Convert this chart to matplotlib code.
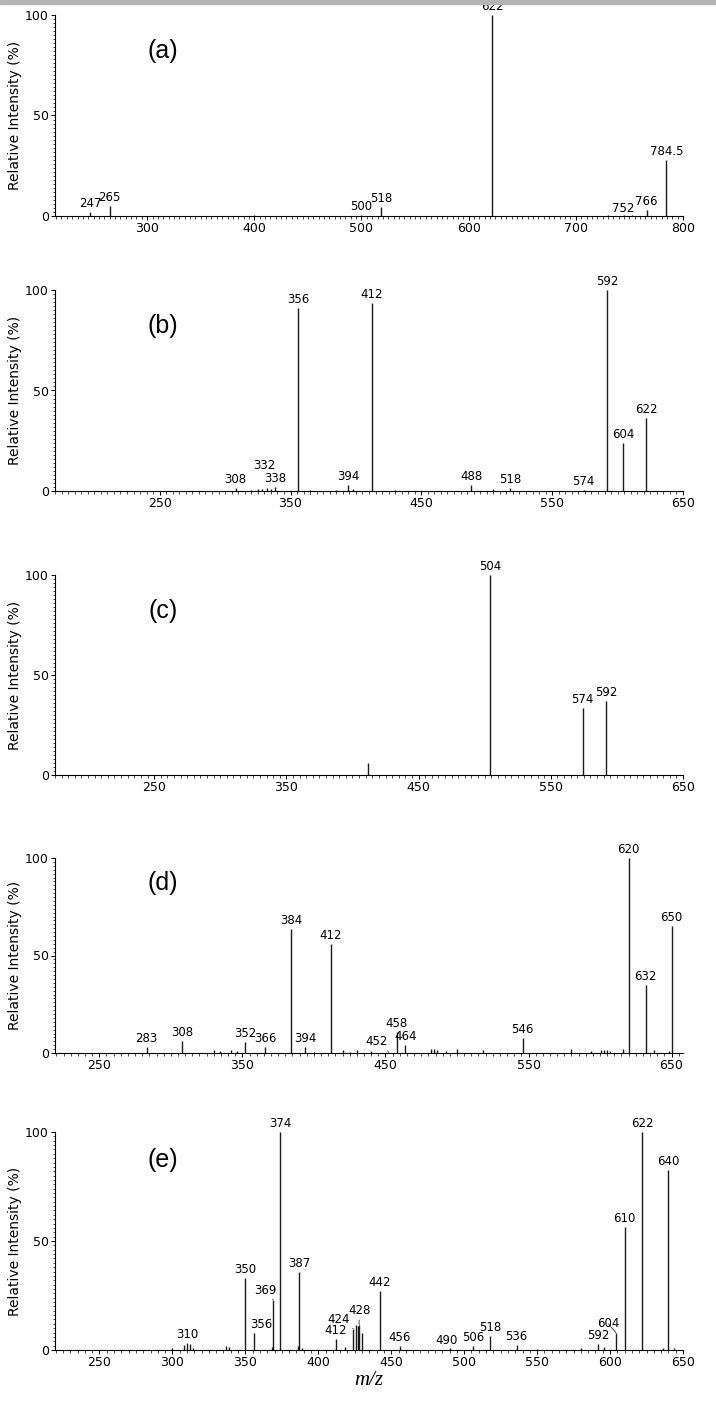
import matplotlib.pyplot as plt
from matplotlib.ticker import MultipleLocator
from matplotlib.patches import Rectangle

# peaks: m/z and relative intensity (%)
a_mz  = [247, 265, 400, 500, 518, 622, 700, 730, 745, 752, 766, 784.5]
a_int = [2.0, 4.8, 0.3, 0.5, 4.3, 100, 0.2, 0.3, 0.3, 0.5, 3.0, 27.8]
a_lab = ['247', '265', '500', '518', '622', '752', '766', '784.5']

b_mz  = [308, 320, 325, 328, 332, 335, 338, 356, 365, 385, 394, 398, 412, 430, 488, 505, 518, 574, 592, 604, 622]
b_int = [1.7, 0.5, 0.8, 0.8, 1.5, 1.0, 2.0, 91.2, 0.4, 0.5, 2.9, 0.8, 93.4, 0.4, 3.2, 0.8, 1.7, 0.7, 100, 23.7, 36.5]
b_lab = ['308', '332', '338', '356', '394', '412', '488', '518', '574', '592', '604', '622']

c_mz  = [412, 504, 574, 592]
c_int = [6.0, 100, 33.6, 37.2]
c_lab = ['504', '574', '592']

d_mz  = [283, 308, 330, 334, 342, 346, 352, 366, 384, 394, 400, 412, 420, 425, 430, 440, 452, 458, 464,
         482, 484, 486, 492, 500, 518, 546, 580, 594, 601, 603, 605, 607, 616, 620, 632, 638, 648, 650]
d_int = [2.9, 6.0, 1.7, 1.0, 1.3, 1.0, 5.8, 3.2, 63.4, 2.9, 0.6, 56.0, 1.5, 0.7, 1.5, 0.8, 0.7, 11.0, 3.9,
         2.2, 2.0, 1.4, 1.0, 2.0, 1.4, 7.8, 2.3, 0.8, 1.5, 1.5, 1.4, 1.2, 2.0, 100, 34.7, 1.3, 1.0, 64.9]
d_lab = ['283', '308', '352', '366', '384', '394', '412', '452', '458', '464', '546', '620', '632', '650']

e_mz  = [300, 308, 310, 312, 314, 337, 339, 350, 356, 368, 369, 374, 386, 387, 389, 412, 418, 424, 426,
         427, 428, 430, 442, 456, 490, 506, 518, 536, 550, 580, 592, 596, 604, 610, 622, 636, 640, 644]
e_int = [0.8, 2.2, 3.0, 2.8, 1.0, 1.8, 1.6, 32.8, 7.6, 1.5, 23.0, 100, 1.8, 35.7, 1.0, 5.0, 1.5, 9.8, 11.5,
         11.0, 11.5, 8.0, 27.0, 1.9, 0.9, 1.9, 6.2, 2.2, 0.5, 1.0, 2.6, 1.2, 7.9, 56.5, 100, 1.0, 82.4, 1.0]
e_lab = ['310', '350', '356', '369', '374', '387', '412', '424', '428', '442', '456', '490', '506', '518',
         '536', '592', '604', '610', '622', '640']

panels = [
    ('(a)', a_mz, a_int, a_lab, (214, 800), [300, 400, 500, 600, 700, 800]),
    ('(b)', b_mz, b_int, b_lab, (170, 650), [250, 350, 450, 550, 650]),
    ('(c)', c_mz, c_int, c_lab, (175, 650), [250, 350, 450, 550, 650]),
    ('(d)', d_mz, d_int, d_lab, (219, 658), [250, 350, 450, 550, 650]),
    ('(e)', e_mz, e_int, e_lab, (219.5, 650), [250, 300, 350, 400, 450, 500, 550, 600, 650]),
]

# labels that are moved off their peak (x, y of label bottom, draw leader line)
moved = {
    ('(a)', '752'): (744, 0.3, False),
    ('(b)', '332'): (330, 9.5, False),
    ('(d)', '452'): (444, 2.5, True),
    ('(e)', '369'): (364, 24.5, True),
    ('(e)', '424'): (414, 11.0, True),
    ('(e)', '428'): (428, 15.0, True),
    ('(e)', '604'): (599, 9.0, True),
    ('(e)', '356'): (361, 8.5, False),
    ('(e)', '490'): (488, 1.5, False),
}

# axes top / bottom in pixels
boxes = [(15, 216), (290, 491), (575, 775), (858, 1053), (1132, 1350)]
W, H = 716, 1407

fig = plt.figure(figsize=(W / 100, H / 100), dpi=100)
fig.patches.append(Rectangle((0, 1 - 4 / H), 1, 4 / H, transform=fig.transFigure,
                             color='#b4b4b4', zorder=0))

for (tag, mz, inten, labs, xlim, xt), (top, bot) in zip(panels, boxes):
    ax = fig.add_axes([55 / W, 1 - bot / H, 628 / W, (bot - top) / H])
    ax.vlines(mz, 0, inten, color='#1a1a1a', lw=1.0)
    ax.set_xlim(*xlim)
    ax.set_ylim(0, 100)
    for s in ['top', 'right']:
        ax.spines[s].set_visible(False)
    for s in ['left', 'bottom']:
        ax.spines[s].set_linewidth(0.8)
    ax.set_xticks(xt)
    ax.set_yticks([0, 50, 100])
    ax.xaxis.set_minor_locator(MultipleLocator(5))
    ax.yaxis.set_minor_locator(MultipleLocator(2))
    ax.tick_params(which='major', length=3, width=0.7, labelsize=9, pad=1.5)
    ax.tick_params(which='minor', length=1.8, width=0.5)
    ax.set_ylabel('Relative Intensity (%)', fontsize=10, labelpad=2)

    for lab in labs:
        pk = float(lab)
        h = inten[mz.index(pk)]
        if (tag, lab) in moved:
            lx, ly, leader = moved[(tag, lab)]
            arrow = dict(arrowstyle='-', lw=0.6, color='#333333', shrinkA=0, shrinkB=0) if leader else None
            ax.annotate(lab, xy=(pk, h), xytext=(lx, ly), ha='center', va='bottom',
                        fontsize=8.5, arrowprops=arrow, annotation_clip=False)
        else:
            ax.text(pk, h + 1.0, lab, ha='center', va='bottom', fontsize=8.5, clip_on=False)

    yl = 0.82 if tag in ('(a)', '(b)', '(c)') else 0.87
    ax.text(0.172, yl, tag, transform=ax.transAxes, ha='center', va='center',
            fontsize=18, family=['Liberation Sans Narrow', 'Liberation Sans', 'DejaVu Sans'])

ax.set_xlabel('m/z', fontsize=15, style='italic', family='Liberation Serif', labelpad=1)

fig.savefig('out.png', dpi=100)
